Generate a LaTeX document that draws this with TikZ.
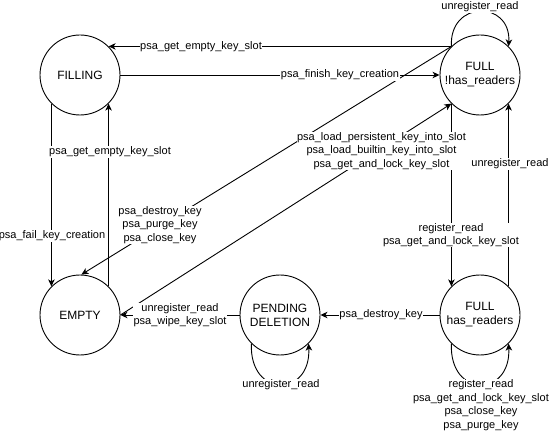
\documentclass[tikz,border=0pt]{standalone}
\usepackage{fontspec}
\setmainfont{Liberation Sans}
\usetikzlibrary{arrows.meta}
\begin{document}
\begin{tikzpicture}[x=1pt,y=-1pt,
  state/.style={circle,draw,line width=0.9pt,minimum size=80pt,inner sep=0pt,align=center,font=\fontsize{12}{14}\selectfont},
  conn/.style={line width=0.9pt,-{Stealth[length=7pt,width=6.5pt,inset=2pt]}},
  lbl/.style={fill=white,inner sep=0.5pt,align=center,font=\fontsize{11}{13.5}\selectfont}]
\useasboundingbox (0,0) rectangle (550,433);
\node[state] (filling) at (80,75) {FILLING};
\node[state] (fullnr) at (480,75) {FULL\\!has\_readers};
\node[state] (empty) at (80,315) {EMPTY};
\node[state] (pending) at (280,315) {PENDING\\DELETION};
\node[state] (fullr) at (480,315) {FULL\\has\_readers};

% connectors
\draw[conn] (fullnr.135) -- (filling.45);
\draw[conn] (filling.east) -- (fullnr.west);
\draw[conn] (fullnr.135) .. controls (449,0) and (511,0) .. (fullnr.45);
\draw[conn] (fullnr.135) -- (empty.88);
\draw[conn] (empty.east) -- (fullnr.225);
\draw[conn] (filling.225) -- (empty.135);
\draw[conn] (empty.45) -- (filling.-45);
\draw[conn] (fullnr.225) -- (fullr.135);
\draw[conn] (fullr.45) -- (fullnr.-45);
\draw[conn] (fullr.west) -- (pending.east);
\draw[conn] (pending.west) -- (empty.east);
\draw[conn] (pending.225) .. controls (249,398) and (311,398) .. (pending.-45);
\draw[conn] (fullr.225) .. controls (449,398) and (511,398) .. (fullr.-45);

% labels
\node[lbl] (l1) at (201,47) {psa\_get\_empty\_key\_slot};
\node[lbl] (l2) at (340,75) {psa\_finish\_key\_creation};
\node[lbl] (l3) at (480,7) {unregister\_read};
\node[lbl] (l4) at (160,225) {psa\_destroy\_key\\psa\_purge\_key\\psa\_close\_key};
\node[lbl] (l5) at (381.5,151) {psa\_load\_persistent\_key\_into\_slot\\psa\_load\_builtin\_key\_into\_slot\\psa\_get\_and\_lock\_key\_slot};
\node[lbl] (l6) at (52,236) {psa\_fail\_key\_creation};
\node[lbl] (l7) at (110,152) {psa\_get\_empty\_key\_slot};
\node[lbl] (l8) at (451,235) {register\_read\\psa\_get\_and\_lock\_key\_slot};
\node[lbl] (l9) at (510,164) {unregister\_read};
\node[lbl] (l10) at (381,315) {psa\_destroy\_key};
\node[lbl] (l11) at (180,315) {unregister\_read\\psa\_wipe\_key\_slot};
\node[lbl] (l12) at (281,385) {unregister\_read};
\node[lbl] (l13) at (481,405) {register\_read\\psa\_get\_and\_lock\_key\_slot\\psa\_close\_key\\psa\_purge\_key};
\end{tikzpicture}
\end{document}
